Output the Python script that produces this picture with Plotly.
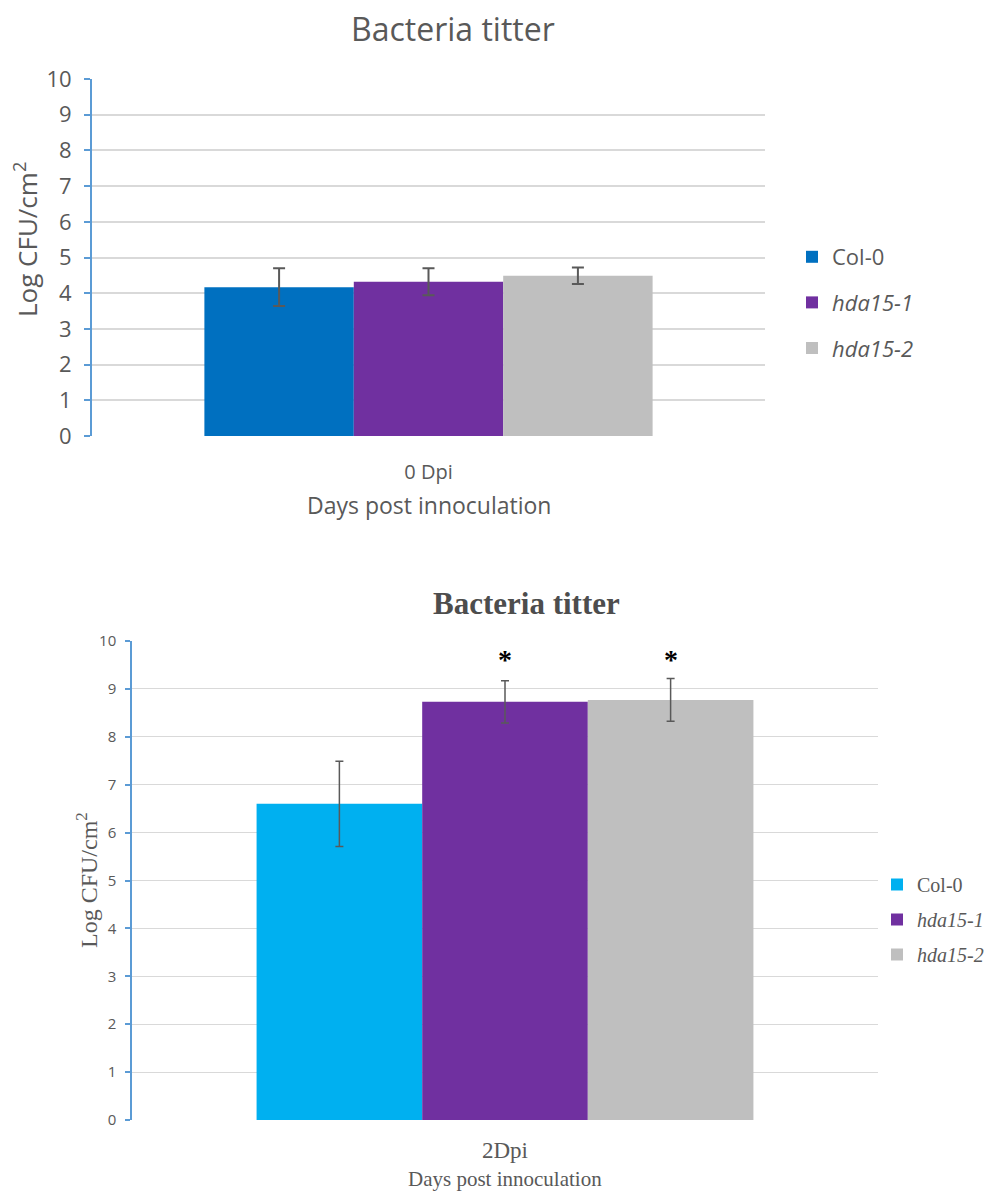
import plotly.graph_objects as go

# ---------------- data ----------------
genotypes = ["Col-0", "hda15-1", "hda15-2"]
legend_names = ["Col-0", "<i>hda15-1</i>", "<i>hda15-2</i>"]

top_category = ["0 Dpi"]
top_means = [4.17, 4.32, 4.49]
top_errors = [0.53, 0.38, 0.23]
top_colors = ["#0070C0", "#7030A0", "#BFBFBF"]

bottom_category = ["2Dpi"]
bottom_means = [6.60, 8.73, 8.77]
bottom_errors = [0.89, 0.44, 0.445]
bottom_significance = ["", "*", "*"]
bottom_colors = ["#00B0F0", "#7030A0", "#BFBFBF"]
star_level = 9.61

y_range = [0, 10]
y_ticks = list(range(0, 11))

title_text = "Bacteria titter"
x_title_text = "Days post innoculation"
y_title_text = "Log CFU/cm<sup>2</sup>"

# ---------------- style / geometry ----------------
PAGE_W, PAGE_H = 994, 1194
OFF = 8  # default body margin of the html page
W, H = PAGE_W - OFF, PAGE_H - OFF

BARGAP = 0.334
SANS = "Open Sans"
SERIF = "Liberation Serif"
GREY_TXT = "#595959"
AXIS_BLUE = "#5B9BD5"
GRID = "#D9D9D9"


def px_x(p):
    return (p - OFF) / W


def px_y(p):
    return 1 - (p - OFF) / H


fig = go.Figure()

for i, g in enumerate(genotypes):
    fig.add_trace(go.Bar(
        x=top_category, y=[top_means[i]], name=legend_names[i],
        marker=dict(color=top_colors[i], line=dict(width=0)),
        error_y=dict(type="data", array=[top_errors[i]], color="#595959",
                     thickness=2, width=6),
        xaxis="x", yaxis="y", legend="legend", legendgroup="t" + g,
    ))

for i, g in enumerate(genotypes):
    fig.add_trace(go.Bar(
        x=bottom_category, y=[bottom_means[i]], name=legend_names[i],
        marker=dict(color=bottom_colors[i], line=dict(width=0)),
        error_y=dict(type="data", array=[bottom_errors[i]], color="#595959",
                     thickness=1.5, width=4),
        xaxis="x2", yaxis="y2", legend="legend2", legendgroup="b" + g,
    ))

# significance stars above the grouped bars (index positions on category axis)
n = len(genotypes)
bw = (1 - BARGAP) / n
annotations = []
for i, s in enumerate(bottom_significance):
    if s:
        annotations.append(dict(
            x=(i - (n - 1) / 2) * bw, y=star_level, xref="x2", yref="y2",
            xanchor="center", yanchor="middle",
            text="<b>" + s + "</b>", showarrow=False,
            font=dict(family=SERIF, size=28, color="#000000"),
        ))


def label(x, y, text, family, size, color=GREY_TXT, angle=0):
    return dict(x=px_x(x), y=px_y(y), xref="paper", yref="paper", text=text,
                xanchor="center", yanchor="middle", textangle=angle,
                showarrow=False, font=dict(family=family, size=size, color=color))


annotations += [
    label(453, 28, title_text, SANS, 32),
    label(429, 505, x_title_text, SANS, 23),
    label(26, 240, y_title_text, SANS, 26, angle=-90),
    label(526, 603, "<b>" + title_text + "</b>", SERIF, 31, color="#4D4D4D"),
    label(505, 1179, x_title_text, SERIF, 21),
    label(87, 880, y_title_text, SERIF, 24, angle=-90),
]

fig.update_layout(
    width=W, height=H,
    margin=dict(l=0, r=0, t=0, b=0, autoexpand=False),
    paper_bgcolor="white", plot_bgcolor="white",
    barmode="group", bargap=BARGAP, bargroupgap=0,
    showlegend=True,
    annotations=annotations,
    xaxis=dict(domain=[px_x(92), px_x(765)], anchor="y", showgrid=False, showline=False,
               zeroline=False, ticks="", ticklabelstandoff=22, automargin=False,
               tickfont=dict(family=SANS, size=20, color=GREY_TXT)),
    yaxis=dict(domain=[px_y(436), px_y(79)], anchor="x", range=y_range, tickvals=y_ticks,
               showgrid=True, gridcolor=GRID, gridwidth=1.5, zeroline=False,
               showline=True, linecolor=AXIS_BLUE, linewidth=2,
               ticks="outside", ticklen=6, tickcolor=AXIS_BLUE, tickwidth=2,
               ticklabelstandoff=8, automargin=False,
               tickfont=dict(family=SANS, size=22, color=GREY_TXT)),
    xaxis2=dict(domain=[px_x(132), px_x(878)], anchor="y2", showgrid=False, showline=False,
                zeroline=False, ticks="", ticklabelstandoff=14, automargin=False,
                tickfont=dict(family=SERIF, size=23, color=GREY_TXT)),
    yaxis2=dict(domain=[px_y(1120), px_y(641)], anchor="x2", range=y_range, tickvals=y_ticks,
                showgrid=True, gridcolor=GRID, gridwidth=1, zeroline=False,
                showline=True, linecolor=AXIS_BLUE, linewidth=1.5,
                ticks="outside", ticklen=5, tickcolor=AXIS_BLUE, tickwidth=1.5,
                ticklabelstandoff=6, automargin=False,
                tickfont=dict(family=SANS, size=15, color=GREY_TXT)),
    legend=dict(x=px_x(792), y=px_y(236), xanchor="left", yanchor="top",
                font=dict(family=SANS, size=22, color=GREY_TXT),
                tracegroupgap=14, bgcolor="rgba(0,0,0,0)", itemwidth=30),
    legend2=dict(x=px_x(877), y=px_y(865), xanchor="left", yanchor="top",
                 font=dict(family=SERIF, size=20, color=GREY_TXT),
                 tracegroupgap=6, bgcolor="rgba(0,0,0,0)", itemwidth=30),
)

fig.write_html("out.html")
